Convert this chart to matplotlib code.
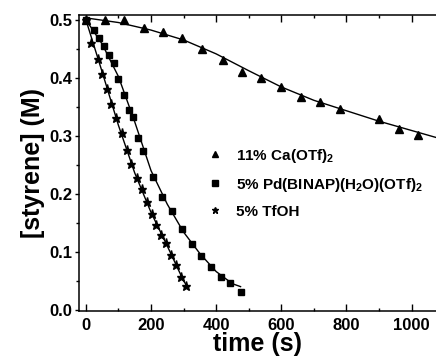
import matplotlib
matplotlib.use("Agg")
import matplotlib.pyplot as plt
from matplotlib.ticker import MultipleLocator, FormatStrFormatter

plt.rcParams["font.family"] = ["Liberation Sans", "DejaVu Sans"]
plt.rcParams["font.weight"] = "bold"
plt.rcParams["mathtext.fontset"] = "custom"
plt.rcParams["mathtext.rm"] = "Liberation Sans:bold"
plt.rcParams["mathtext.default"] = "rm"

# 11% Ca(OTf)2
ca_t = [0, 58, 117, 178, 237, 295, 356, 421, 479, 538, 599, 660, 719, 780, 900, 962, 1020]
ca_c = [0.500, 0.500, 0.499, 0.486, 0.478, 0.468, 0.449, 0.430, 0.410, 0.400,
        0.384, 0.367, 0.358, 0.346, 0.328, 0.312, 0.302]
ca_fit_t = [0, 100, 200, 300, 400, 500, 600, 700, 800, 900, 1000, 1075]
ca_fit_c = [0.503, 0.495, 0.482, 0.465, 0.441, 0.412, 0.384, 0.361, 0.343, 0.325, 0.309, 0.297]

# 5% Pd(BINAP)(H2O)(OTf)2
pd_t = [0, 25, 41, 56, 71, 86, 100, 117, 131, 145, 160, 175, 205, 235, 265, 295,
        325, 355, 385, 414, 444, 475]
pd_c = [0.500, 0.482, 0.468, 0.454, 0.439, 0.426, 0.398, 0.371, 0.344, 0.333, 0.296,
        0.274, 0.229, 0.195, 0.170, 0.139, 0.113, 0.093, 0.073, 0.056, 0.046, 0.030]
pd_fit_t = [0, 50, 100, 150, 200, 250, 300, 350, 400, 450, 475]
pd_fit_c = [0.500, 0.458, 0.402, 0.324, 0.240, 0.182, 0.134, 0.097, 0.066, 0.045, 0.040]

# 5% TfOH
tf_t = [0, 16, 37, 50, 65, 78, 94, 110, 125, 140, 156, 171, 187, 202, 215, 231,
        246, 261, 277, 291, 307]
tf_c = [0.500, 0.460, 0.433, 0.407, 0.380, 0.354, 0.330, 0.304, 0.275, 0.252, 0.228,
        0.209, 0.185, 0.165, 0.146, 0.129, 0.115, 0.095, 0.077, 0.056, 0.041]
tf_fit_t = [0, 50, 100, 150, 200, 250, 300, 307]
tf_fit_c = [0.500, 0.410, 0.318, 0.236, 0.168, 0.110, 0.050, 0.044]

fig = plt.figure(figsize=(4.36, 3.61), dpi=100)
ax = fig.add_axes([0.1812, 0.1385, 0.8188, 0.820])

ax.plot(ca_fit_t, ca_fit_c, color="black", lw=1.0)
ax.plot(pd_fit_t, pd_fit_c, color="black", lw=1.0)
ax.plot(tf_fit_t, tf_fit_c, color="black", lw=1.0)
ax.plot(ca_t, ca_c, ls="none", marker="^", ms=6, color="black",
        label=r"11% Ca(OTf)$_2$")
ax.plot(pd_t, pd_c, ls="none", marker="s", ms=5, color="black",
        label=r"5% Pd(BINAP)(H$_2$O)(OTf)$_2$")
ax.plot(tf_t, tf_c, ls="none", marker="*", ms=6.5, color="black",
        label="5% TfOH")

ax.set_xlim(-21, 1075)
ax.set_ylim(-0.002, 0.508)
ax.xaxis.set_major_locator(MultipleLocator(200))
ax.xaxis.set_minor_locator(MultipleLocator(100))
ax.yaxis.set_major_locator(MultipleLocator(0.1))
ax.yaxis.set_minor_locator(MultipleLocator(0.05))
ax.yaxis.set_major_formatter(FormatStrFormatter("%.1f"))

ax.spines["right"].set_visible(False)
for s in ["left", "bottom", "top"]:
    ax.spines[s].set_linewidth(1.1)
ax.tick_params(axis="x", which="both", direction="in", top=True, bottom=True,
               labelsize=12, pad=5, width=1.0)
ax.tick_params(axis="x", which="major", length=5)
ax.tick_params(axis="x", which="minor", length=2.5)
ax.tick_params(axis="y", which="both", direction="out", right=False,
               labelsize=12, pad=2, width=1.0)
ax.tick_params(axis="y", which="major", length=3)
ax.tick_params(axis="y", which="minor", length=2)

ax.set_xlabel("time (s)", fontsize=18, fontweight="bold", labelpad=-1)
ax.set_ylabel("[styrene] (M)", fontsize=18, fontweight="bold", labelpad=3)

ax.legend(loc="upper left", bbox_to_anchor=(0.359, 0.555), frameon=False,
          fontsize=11, markerscale=0.75, handlelength=1.0, handletextpad=0.9,
          labelspacing=0.72, borderpad=0, borderaxespad=0)

fig.savefig("out.png", dpi=100)
